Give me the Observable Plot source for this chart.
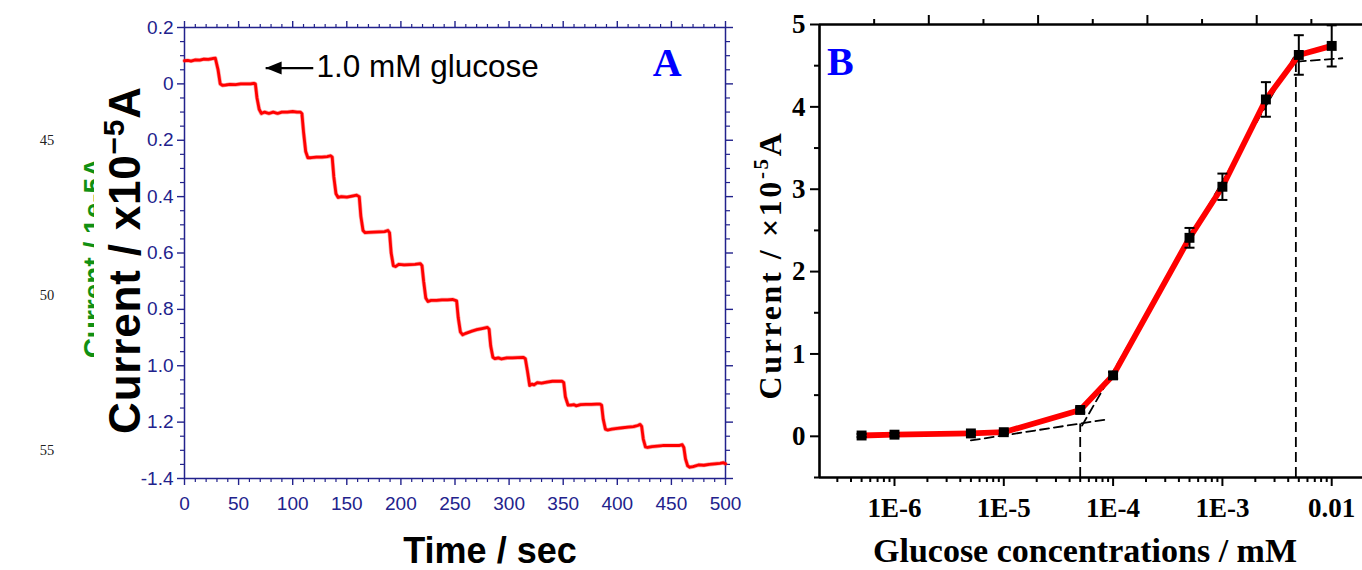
<!DOCTYPE html>
<html><head><meta charset="utf-8">
<script src="https://cdn.jsdelivr.net/npm/d3@7"></script>
<script src="https://cdn.jsdelivr.net/npm/@observablehq/plot@0.6"></script>
<style>
html,body{margin:0;padding:0;background:#fff;}
#wrap{position:relative;width:1362px;height:570px;overflow:hidden;background:#fff;}
#a{position:absolute;left:0;top:0;}
#b{position:absolute;left:740px;top:0;}
</style></head><body><div id="wrap"><div id="a"></div><div id="b"></div></div>
<script>
// ---------- Panel A: amperometric staircase (time / s, current / 1e-5 A) ----------
const stepTrace = [
  [0,0.082],[3,0.083],[6,0.081],[10,0.085],[14,0.084],[18,0.088],[22,0.087],[26,0.09],[28.5,0.091],
  [31,0.05],[33,0.0],[35,-0.005],
  [38,-0.004],[42,-0.002],[47,-0.003],[52,0.0],[57,0.0],[61,0.0],[64,0.002],[65.5,0.0],
  [67,-0.05],[69,-0.09],[71,-0.105],
  [74,-0.1],[78,-0.105],[82,-0.1],[86,-0.105],[90,-0.1],[95,-0.1],[100,-0.098],[104,-0.1],[107,-0.1],[108.5,-0.105],
  [110,-0.17],[112,-0.24],[114,-0.262],
  [117,-0.262],[122,-0.26],[127,-0.26],[132,-0.258],[135,-0.255],[136.5,-0.26],
  [138,-0.33],[140,-0.39],[142,-0.403],
  [145,-0.4],[150,-0.402],[155,-0.398],[159,-0.395],[161.5,-0.4],
  [163,-0.47],[165,-0.52],[167,-0.528],
  [170,-0.527],[175,-0.526],[180,-0.525],[185,-0.524],[188,-0.52],[189.5,-0.528],
  [191,-0.6],[193,-0.645],[195,-0.648],
  [198,-0.64],[203,-0.642],[208,-0.641],[213,-0.64],[218,-0.638],[219.5,-0.645],
  [221,-0.7],[223,-0.76],[225,-0.772],
  [228,-0.768],[233,-0.768],[238,-0.766],[243,-0.766],[248,-0.765],[251.5,-0.77],
  [253,-0.83],[255,-0.88],[257,-0.89],
  [260,-0.885],[265,-0.878],[270,-0.872],[275,-0.868],[280,-0.864],[281.5,-0.87],
  [283,-0.93],[285,-0.97],[287,-0.975],
  [290,-0.972],[293,-0.976],[298,-0.972],[303,-0.972],[308,-0.971],[313,-0.97],[315,-0.975],
  [317,-1.02],[319,-1.07],[321,-1.065],[323,-1.068],[326,-1.06],
  [330,-1.062],[335,-1.058],[340,-1.055],[345,-1.055],[349,-1.055],[350.5,-1.06],
  [352,-1.11],[354.5,-1.14],
  [357,-1.14],[360,-1.138],[362,-1.142],[366,-1.138],[371,-1.137],[376,-1.137],[381,-1.136],[384,-1.136],[385.5,-1.14],
  [387,-1.19],[389,-1.225],[391,-1.228],
  [395,-1.225],[400,-1.222],[405,-1.22],[410,-1.218],[415,-1.216],[419,-1.212],[421,-1.208],[422.5,-1.215],
  [424,-1.26],[426,-1.288],[428,-1.29],
  [432,-1.287],[437,-1.285],[442,-1.283],[447,-1.283],[452,-1.283],[457,-1.283],[460,-1.28],[461.5,-1.29],
  [463,-1.33],[465,-1.355],[467,-1.36],
  [470,-1.358],[475,-1.352],[480,-1.353],[485,-1.35],[490,-1.348],[495,-1.346],[498,-1.344],[500,-1.348]
];
const xTicksA = [0,50,100,150,200,250,300,350,400,450,500];
const xMinorA = d3.range(0, 501, 10).filter(v => v % 50 !== 0);
const yTicksA = [0.2,0,-0.2,-0.4,-0.6,-0.8,-1.0,-1.2,-1.4];
const yTickLabelsA = ["0.2","0","0.2","0.4","0.6","0.8","1.0","1.2","-1.4"];
const yMinorA = d3.range(0,33).map(i => 0.2 - i*0.05).filter(v => Math.abs(v*5 - Math.round(v*5)) > 1e-6);
const arrowNoteA = [{t1: 75, t2: 119, v: 0.056}];
const textNoteA = [{t: 122, v: 0.06, text: "1.0 mM glucose"}];
const panelLabelA = [{t: 446, v: 0.072, text: "A"}];
const sideNumbers = ["45","50","55"];

// ---------- Panel B: calibration (glucose conc / mM, current / 1e-5 A) ----------
const concB    = [5e-7, 1e-6, 5e-6, 1e-5, 5e-5, 1e-4, 5e-4, 1e-3, 2.5e-3, 5e-3, 1e-2];
const currentB = [0.01, 0.02, 0.035, 0.05, 0.32, 0.74, 2.41, 3.03, 4.09, 4.63, 4.74];
const errB     = [0.02, 0.02, 0.02, 0.02, 0.03, 0.04, 0.12, 0.16, 0.21, 0.24, 0.25];
const xTicksB = [1e-6, 1e-5, 1e-4, 1e-3, 1e-2];
const xTickLabelsB = ["1E-6","1E-5","1E-4","1E-3","0.01"];
const yTicksB = [0,1,2,3,4,5];
const yMinorB = [-0.5,0.5,1.5,2.5,3.5,4.5];
const fitLow  = [[5e-6,-0.05],[8.3e-5,0.2]];
const fitMid  = [[5.2e-5,0.13],[4.5e-3,4.6]];
const fitHigh = [[4.8e-3,4.55],[0.0125,4.59]];
const dropLines = [{c: 5e-5, y1: -0.5, y2: 0.15},{c: 4.7e-3, y1: -0.5, y2: 4.6}];
const panelLabelB = [{c: 3.2e-7, v: 4.54, text: "B"}];

const xDomainB = [2.06e-7, 0.01913];
const navy = "#22228c";

// ---------- build Panel A ----------
const labelA = d => { const i = yTicksA.findIndex(t => Math.abs(t - d) < 1e-9); return i < 0 ? "" : yTickLabelsA[i]; };
const arrowHead = { draw(ctx) { ctx.moveTo(0,0); ctx.lineTo(16,-6.5); ctx.lineTo(16,6.5); ctx.closePath(); } };
const blank = () => "";

const chartA = Plot.plot({
  width: 740, height: 570,
  marginLeft: 184, marginRight: 15, marginTop: 27, marginBottom: 92,
  x: {domain: [0, 500]},
  y: {domain: [-1.4, 0.2]},
  style: {fontFamily: "'Liberation Sans', Arial, sans-serif", fontSize: "19px", color: navy, background: "transparent", overflow: "visible"},
  marks: [
    Plot.axisX({ticks: xMinorA, tickSize: 4, tickFormat: blank, label: null, strokeWidth: 1.2}),
    Plot.axisX({ticks: xTicksA, tickSize: 7, tickPadding: 11, tickFormat: d => String(d), label: null, strokeWidth: 1.4, fontSize: 19, fill: navy}),
    Plot.axisX({anchor: "top", ticks: xMinorA, tickSize: 4, tickFormat: blank, label: null, strokeWidth: 1.2}),
    Plot.axisX({anchor: "top", ticks: xTicksA, tickSize: 7, tickFormat: blank, label: null, strokeWidth: 1.4}),
    Plot.axisY({ticks: yMinorA, tickSize: 4, tickFormat: blank, label: null, strokeWidth: 1.2}),
    Plot.axisY({ticks: yTicksA, tickSize: 7, tickPadding: 4, tickFormat: labelA, label: null, strokeWidth: 1.4, fontSize: 19, fill: navy}),
    Plot.axisY({anchor: "right", ticks: yMinorA, tickSize: 4, tickFormat: blank, label: null, strokeWidth: 1.2}),
    Plot.axisY({anchor: "right", ticks: yTicksA, tickSize: 7, tickFormat: blank, label: null, strokeWidth: 1.4}),
    Plot.frame({stroke: navy, strokeWidth: 1.5}),
    Plot.line(stepTrace, {x: d => d[0], y: d => d[1], stroke: "#ff3030", strokeWidth: 4.2, strokeOpacity: 0.45}),
    Plot.line(stepTrace, {x: d => d[0], y: d => d[1], stroke: "#ff0000", strokeWidth: 2.8}),
    Plot.link(arrowNoteA, {x1: "t1", x2: "t2", y1: "v", y2: "v", stroke: "black", strokeWidth: 2.4}),
    Plot.dot(arrowNoteA, {x: "t1", y: "v", symbol: arrowHead, fill: "black", stroke: "none"}),
    Plot.text(textNoteA, {x: "t", y: "v", text: "text", textAnchor: "start", fontSize: 31.5, fill: "black", fontFamily: "'Liberation Sans', Arial, sans-serif"}),
    Plot.text(panelLabelA, {x: "t", y: "v", text: "text", fontSize: 40, fontWeight: "bold", fill: "#0000ff", fontFamily: "'Liberation Serif', 'Times New Roman', serif"})
  ]
});
document.getElementById("a").appendChild(chartA);

// extra titles / stray labels of panel A
{
  const s = d3.select(chartA);
  const g = s.append("g");
  g.selectAll("text.side").data(sideNumbers).join("text")
    .attr("x", 47).attr("y", (d, i) => 145 + i * 155)
    .attr("text-anchor", "middle")
    .style("font-family", "'Liberation Serif', 'Times New Roman', serif").style("font-size", "14.5px").attr("fill", "#222")
    .text(d => d);
  g.append("text")
    .attr("transform", "translate(103,258) rotate(-90)")
    .attr("text-anchor", "middle")
    .style("font-family", "'Liberation Sans', Arial, sans-serif").style("font-size", "28px").style("font-weight", "bold")
    .attr("fill", "#119011")
    .text("Current / 1e-5A");
  g.append("rect").attr("x", 94).attr("y", 80).attr("width", 50).attr("height", 360).attr("fill", "white");
  const t = g.append("text")
    .attr("transform", "translate(140,260) rotate(-90)")
    .attr("text-anchor", "middle")
    .style("font-family", "'Liberation Sans', Arial, sans-serif").style("font-size", "44px").style("font-weight", "bold")
    .style("letter-spacing", "0.8px")
    .attr("fill", "black");
  t.append("tspan").text("Current / x10");
  t.append("tspan").attr("dy", -16).style("font-size", "30px").text("\u22125");
  t.append("tspan").attr("dy", 16).text("A");
  g.append("text")
    .attr("x", 490).attr("y", 563).attr("text-anchor", "middle")
    .style("font-family", "'Liberation Sans', Arial, sans-serif").style("font-size", "36px").style("font-weight", "bold")
    .attr("fill", "black").text("Time / sec");
}

// ---------- build Panel B ----------
const calib = concB.map((c, i) => ({c, v: currentB[i], e: errB[i]}));
const xMinorB = [];
for (let k = -7; k <= -2; k++) for (let m = 2; m <= 9; m++) { const v = m * 10 ** k; if (v > xDomainB[0] && v < xDomainB[1]) xMinorB.push(v); }
const topLongB = [1,2,3,4].map(j => xDomainB[0] * 10 ** j);
const topShortB = [0.5,1.5,2.5,3.5,4.5].map(j => xDomainB[0] * 10 ** j);
const capSym = { draw(ctx) { ctx.moveTo(-5,0); ctx.lineTo(5,0); } };
const labelB = d => { const i = xTicksB.indexOf(d); return i < 0 ? "" : xTickLabelsB[i]; };

const chartB = Plot.plot({
  width: 622, height: 570,
  marginLeft: 79, marginRight: 0, marginTop: 24, marginBottom: 93,
  x: {type: "log", domain: xDomainB},
  y: {domain: [-0.5, 5]},
  style: {fontFamily: "'Liberation Serif', 'Times New Roman', serif", fontWeight: "bold", fontSize: "26px", color: "black", background: "transparent", overflow: "visible"},
  marks: [
    Plot.axisX({ticks: xMinorB, tickSize: 5, tickFormat: blank, label: null, strokeWidth: 2}),
    Plot.axisX({ticks: xTicksB, tickSize: 9, tickPadding: 11, tickFormat: labelB, label: null, strokeWidth: 2, fontSize: 27, fontWeight: "bold", fill: "black"}),
    Plot.axisX({anchor: "top", ticks: topShortB, tickSize: 6, tickFormat: blank, label: null, strokeWidth: 2}),
    Plot.axisX({anchor: "top", ticks: topLongB, tickSize: 10, tickFormat: blank, label: null, strokeWidth: 2}),
    Plot.axisY({ticks: yMinorB, tickSize: 5, tickFormat: blank, label: null, strokeWidth: 2}),
    Plot.axisY({ticks: yTicksB, tickSize: 9, tickPadding: 5, tickFormat: d => String(d), label: null, strokeWidth: 2, fontSize: 27, fontWeight: "bold", fill: "black"}),
    Plot.ruleX([xDomainB[0]], {stroke: "black", strokeWidth: 2.6}),
    Plot.ruleY([-0.5], {stroke: "black", strokeWidth: 2.6}),
    Plot.ruleY([5], {stroke: "black", strokeWidth: 2.6}),
    Plot.line(fitLow, {x: d => d[0], y: d => d[1], stroke: "black", strokeWidth: 1.8, strokeDasharray: "9,5"}),
    Plot.line(fitMid, {x: d => d[0], y: d => d[1], stroke: "black", strokeWidth: 1.8, strokeDasharray: "9,5"}),
    Plot.line(fitHigh, {x: d => d[0], y: d => d[1], stroke: "black", strokeWidth: 1.8, strokeDasharray: "9,5"}),
    Plot.ruleX(dropLines, {x: "c", y1: "y1", y2: "y2", stroke: "black", strokeWidth: 1.8, strokeDasharray: "10,5"}),
    Plot.line(calib, {x: "c", y: "v", stroke: "#ff0000", strokeWidth: 5.8}),
    Plot.ruleX(calib, {x: "c", y1: d => d.v - d.e, y2: d => d.v + d.e, stroke: "black", strokeWidth: 2}),
    Plot.dot(calib, {x: "c", y: d => d.v + d.e, symbol: capSym, stroke: "black", strokeWidth: 2, fill: "none"}),
    Plot.dot(calib, {x: "c", y: d => d.v - d.e, symbol: capSym, stroke: "black", strokeWidth: 2, fill: "none"}),
    Plot.dot(calib, {x: "c", y: "v", symbol: "square", r: 5.6, fill: "black", stroke: "none"}),
    Plot.text(panelLabelB, {x: "c", y: "v", text: "text", fontSize: 40, fontWeight: "bold", fill: "#0000ff"})
  ]
});
document.getElementById("b").appendChild(chartB);

{
  const s = d3.select(chartB);
  const g = s.append("g");
  const t = g.append("text")
    .attr("transform", "translate(41,265) rotate(-90)")
    .attr("text-anchor", "middle")
    .style("font-family", "'Liberation Serif', 'Times New Roman', serif").style("font-size", "32px").style("font-weight", "bold")
    .style("letter-spacing", "2.6px")
    .attr("fill", "black");
  t.append("tspan").text("Current / \u00d710");
  t.append("tspan").attr("dy", -13).style("font-size", "21px").text("-5");
  t.append("tspan").attr("dy", 13).text("A");
  g.append("text")
    .attr("x", 345).attr("y", 562).attr("text-anchor", "middle")
    .style("font-family", "'Liberation Serif', 'Times New Roman', serif").style("font-size", "34px").style("font-weight", "bold")
    .attr("fill", "black").text("Glucose concentrations / mM");
}
</script></body></html>
